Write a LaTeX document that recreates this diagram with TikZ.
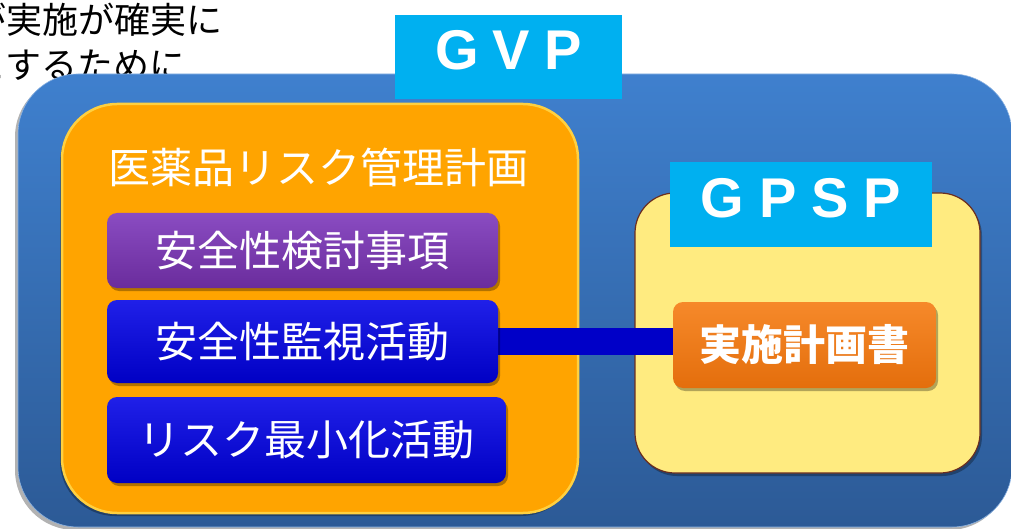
\documentclass[tikz,border=0pt]{standalone}
\usepackage{fontspec}
\newfontfamily\jp{Noto Sans CJK JP}
\newfontfamily\lat{Liberation Sans}
\usetikzlibrary{shadows}
\pgfdeclarelayer{backlayer}
\pgfdeclarelayer{midlayer}
\pgfsetlayers{backlayer,midlayer,main}
\definecolor{labcyan}{HTML}{00B0F0}
\definecolor{gvptop}{HTML}{3F80CE}
\definecolor{gvpbot}{HTML}{2C5A96}
\definecolor{rmporange}{HTML}{FFA400}
\definecolor{rmprim}{HTML}{FFD040}
\definecolor{purtop}{HTML}{8A4CC2}
\definecolor{purbot}{HTML}{6A2C9C}
\definecolor{blutop}{HTML}{2020E8}
\definecolor{blubot}{HTML}{0000C4}
\definecolor{barblue}{HTML}{0000C8}
\definecolor{gpspfill}{HTML}{FFEB80}
\definecolor{gpspedge}{HTML}{6A2E20}
\definecolor{plantop}{HTML}{F6892A}
\definecolor{planbot}{HTML}{E46E0C}
\tikzset{
  x=1pt, y=-1pt,
  container/.style={rectangle, inner sep=0pt},
  softshadow/.style={drop shadow={shadow xshift=#1, shadow yshift=-3pt, fill=black, opacity=0.3}},
  itembox/.style={rectangle, inner sep=0pt, rounded corners=10pt, text=white,
    font=\jp\fontsize{42}{50}\selectfont, softshadow=2pt},
  tag/.style={rectangle, inner sep=0pt, fill=labcyan, text=white,
    font=\lat\bfseries\fontsize{56}{60}\selectfont},
}
\begin{document}
\begin{tikzpicture}
\useasboundingbox (0,0) rectangle (1011,529);
\begin{pgfonlayer}{backlayer}
  \node[anchor=west, align=left, inner sep=0pt, text=black,
        font=\jp\fontsize{36}{45}\selectfont] (intro) at (-30,42)
        {が実施が確実に\\とするために};
  \node[container, minimum width=994pt, minimum height=453pt, rounded corners=60pt,
        top color=gvptop, bottom color=gvpbot, draw=gvptop!60!white, line width=0.6pt,
        softshadow=-3pt]
        (gvpbox) at (515,300.5) {};
  \node[container, minimum width=516pt, minimum height=409pt, rounded corners=55pt,
        fill=rmporange, draw=rmprim, line width=2.5pt, softshadow=-2pt]
        (rmp) at (320,308.5) {};
  \node[container, minimum width=345pt, minimum height=280pt, rounded corners=40pt,
        fill=gpspfill, draw=gpspedge, line width=1.2pt, softshadow=2pt]
        (gpspbox) at (807.5,333) {};
\end{pgfonlayer}
\node[text=white, inner sep=0pt, font=\jp\fontsize{42}{50}\selectfont] (rmptitle) at (318,167) {医薬品リスク管理計画};
\node[itembox, minimum width=391pt, minimum height=75pt, top color=purtop, bottom color=purbot] (s1) at (302.5,250.5) {\raisebox{-4pt}{安全性検討事項}};
\node[itembox, minimum width=391pt, minimum height=83pt, top color=blutop, bottom color=blubot] (s2) at (302.5,341.5) {\raisebox{-4pt}{安全性監視活動}};
\node[itembox, minimum width=399pt, minimum height=86pt, top color=blutop, bottom color=blubot] (s3) at (306.5,440) {\raisebox{-4pt}{リスク最小化活動}};
\node[itembox, minimum width=263pt, minimum height=86pt, top color=plantop, bottom color=planbot,
      font=\jp\bfseries\fontsize{42}{50}\selectfont] (plan) at (804.5,345) {\raisebox{3pt}{実施計画書}};
\begin{pgfonlayer}{midlayer}
  \draw[barblue, line width=27pt] (s2.center) -- (s2.center -| plan.west);
\end{pgfonlayer}
\node[tag, minimum width=227pt, minimum height=84pt, text depth=14pt] (gvp) at (508.5,57)
  {G\hspace{14pt}V\hspace{14pt}P};
\node[tag, minimum width=262pt, minimum height=85pt, text depth=13pt] (gpsp) at (801,204.5)
  {G\hspace{15pt}P\hspace{15pt}S\hspace{15pt}P};
\end{tikzpicture}
\end{document}
